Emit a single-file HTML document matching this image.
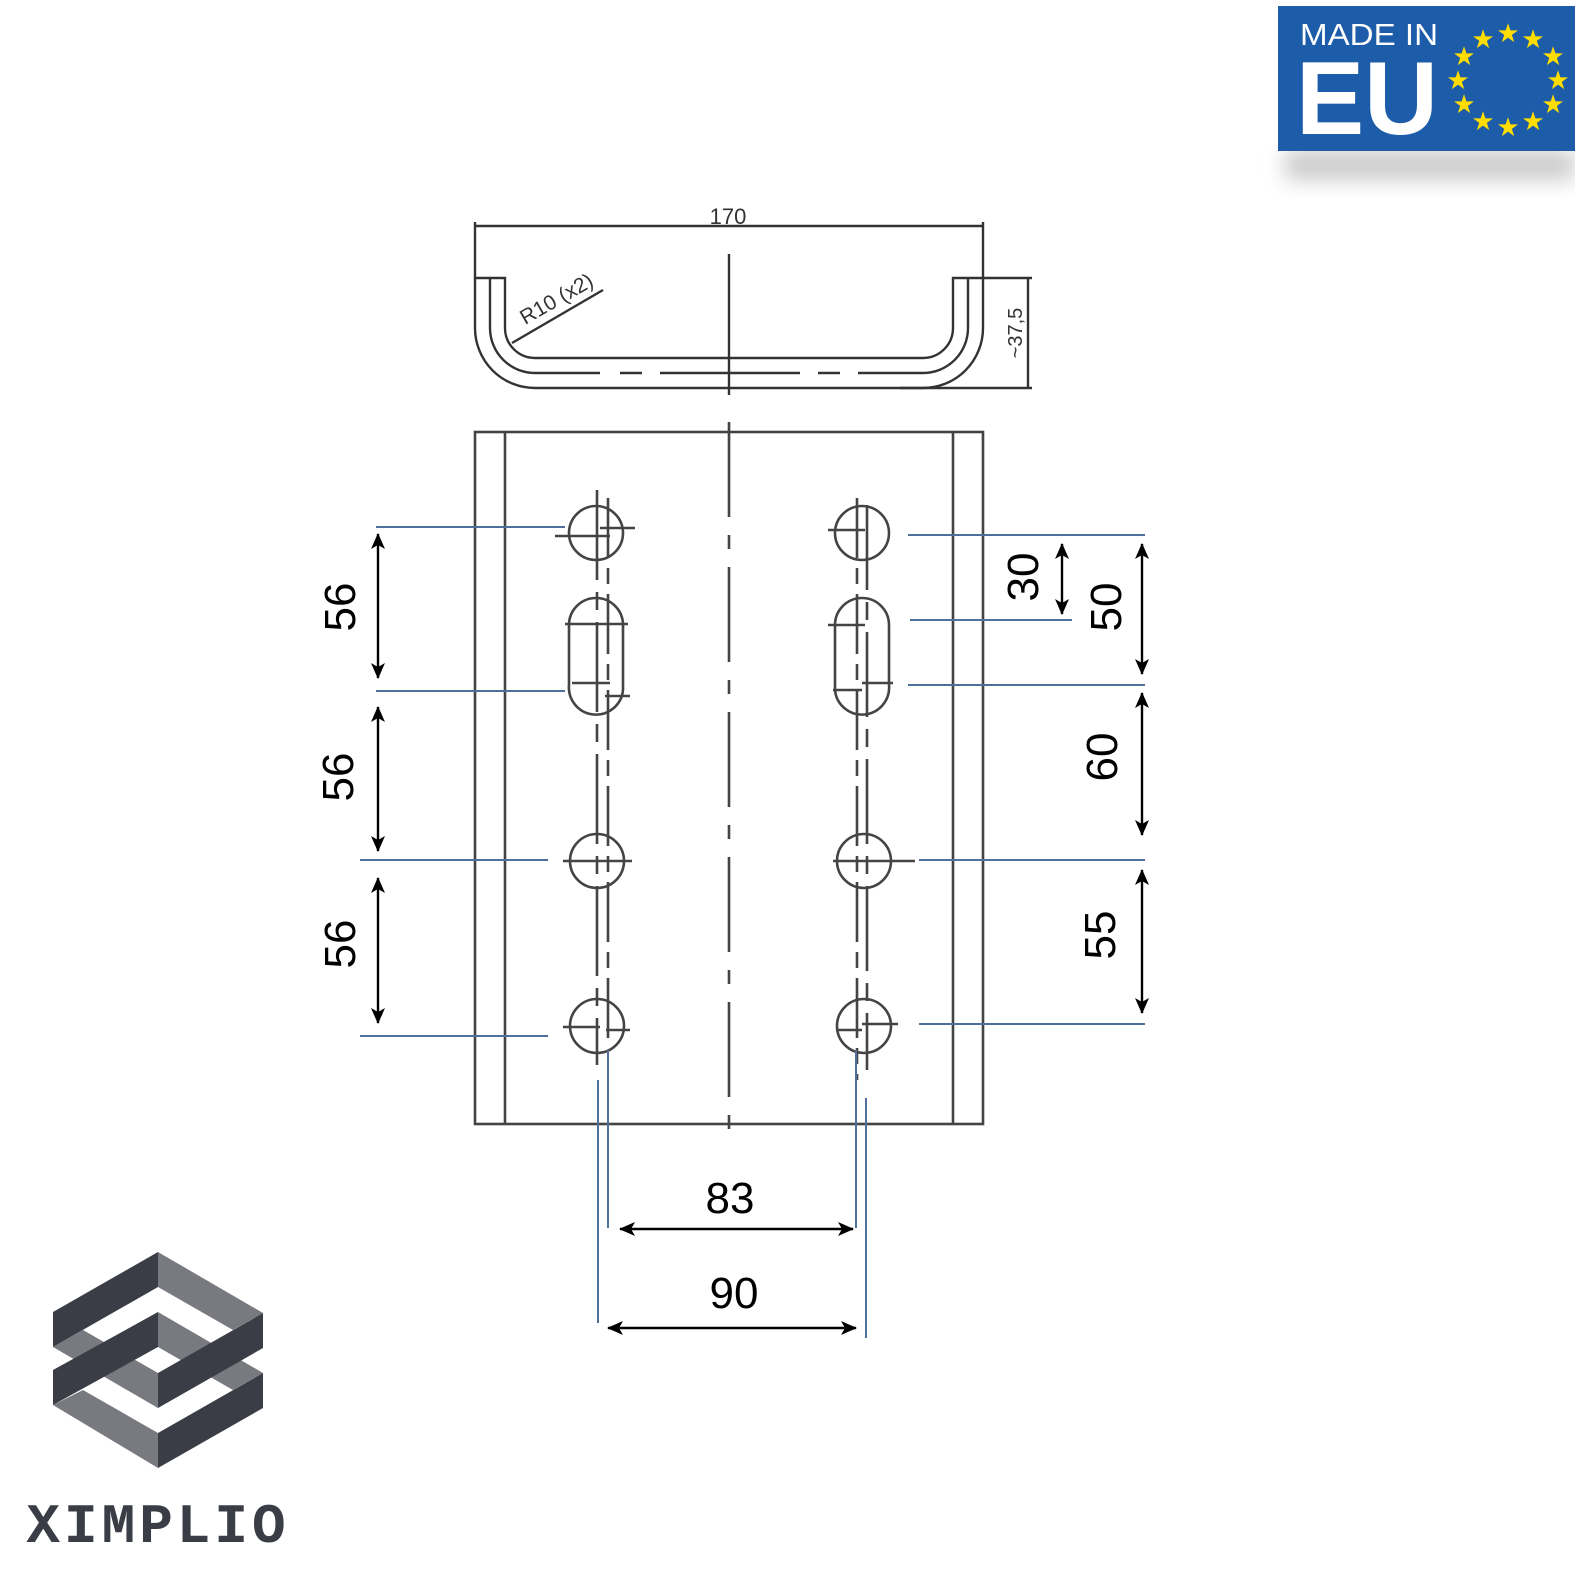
<!DOCTYPE html>
<html><head><meta charset="utf-8"><style>
html,body{margin:0;padding:0;background:#fff;}
svg{display:block;}
</style></head><body>
<svg width="1575" height="1575" viewBox="0 0 1575 1575" xmlns="http://www.w3.org/2000/svg">
<defs>
<marker id="ah" viewBox="0 0 16 14" refX="15" refY="7" markerWidth="16" markerHeight="14" markerUnits="userSpaceOnUse" orient="auto-start-reverse">
<path d="M0,0 L16,7 L0,14 L4,7 z" fill="#000"/>
</marker>
<filter id="sh" x="-20%" y="-20%" width="140%" height="180%"><feGaussianBlur stdDeviation="10"/></filter>
</defs>
<rect width="1575" height="1575" fill="#fff"/>

<!-- EU badge -->
<rect x="1285" y="150" width="290" height="30" fill="#999" opacity="0.5" filter="url(#sh)"/>
<rect x="1278" y="6" width="297" height="145" fill="#1d5ca8"/>
<text x="1300" y="45" font-family="Liberation Sans, sans-serif" font-size="31" fill="#fff" textLength="138" lengthAdjust="spacingAndGlyphs">MADE IN</text>
<text x="1296" y="134" font-family="Liberation Sans, sans-serif" font-weight="bold" font-size="104" fill="#fff" textLength="142" lengthAdjust="spacingAndGlyphs">EU</text>
<g fill="#ffdd00" font-family="DejaVu Sans, sans-serif" font-size="26" text-anchor="middle">
<text x="1508" y="42">★</text><text x="1533" y="48">★</text><text x="1553" y="65">★</text>
<text x="1558" y="89">★</text><text x="1553" y="113">★</text><text x="1533" y="130">★</text>
<text x="1508" y="136">★</text><text x="1483" y="130">★</text><text x="1464" y="113">★</text>
<text x="1458" y="89">★</text><text x="1464" y="65">★</text><text x="1483" y="48">★</text>
</g>

<!-- Top view -->
<g stroke="#333" stroke-width="2.4" fill="none">
<line x1="475" y1="222" x2="475" y2="278"/>
<line x1="983" y1="222" x2="983" y2="278"/>
<line x1="475" y1="226" x2="983" y2="226"/>
<line x1="729" y1="254" x2="729" y2="395"/>
<path d="M475,278 H505 V328 A30,30 0 0 0 535,358 H923 A30,30 0 0 0 953,328 V278 H983 V328 A60,60 0 0 1 923,388 H535 A60,60 0 0 1 475,328 Z"/>
<path d="M490,278 V328 A45,45 0 0 0 535,373 H600 M620,373 H642 M660,373 H800 M818,373 H840 M858,373 H923 A45,45 0 0 0 968,328 V278"/>
<line x1="983" y1="278" x2="1032" y2="278"/>
<line x1="900" y1="388" x2="1032" y2="388"/>
<line x1="1028" y1="278" x2="1028" y2="388"/>
<line x1="512" y1="343" x2="603" y2="290"/>
</g>
<text x="0" y="0" transform="translate(560,305) rotate(-30)" font-family="Liberation Sans, sans-serif" font-size="21" fill="#333" text-anchor="middle">R10 (x2)</text>
<text x="728" y="224" font-family="Liberation Sans, sans-serif" font-size="22" fill="#333" text-anchor="middle">170</text>
<text x="0" y="0" transform="translate(1022,333) rotate(-90)" font-family="Liberation Sans, sans-serif" font-size="20" fill="#333" text-anchor="middle">~37,5</text>

<!-- Front view -->
<g stroke="#444" stroke-width="2.6" fill="none">
<rect x="475" y="432" width="508" height="692"/>
<line x1="505" y1="432" x2="505" y2="1124"/>
<line x1="953" y1="432" x2="953" y2="1124"/>
<line x1="729" y1="422" x2="729" y2="1130" stroke-dasharray="95,18,14,18"/>
<circle cx="596" cy="533" r="27"/>
<path d="M569,625 A27,27 0 0 1 623,625 V690 A27,27 0 0 1 569,685 Z"/>
<circle cx="597" cy="861" r="27"/>
<circle cx="597" cy="1026" r="27"/>
<line x1="597" y1="490" x2="597" y2="1065" stroke-dasharray="90,12,18,12"/>
<line x1="608" y1="498" x2="608" y2="1040" stroke-dasharray="60,10,16,10"/>
<line x1="555" y1="536" x2="610" y2="536"/><line x1="600" y1="528" x2="635" y2="528"/>
<line x1="565" y1="624" x2="628" y2="624"/>
<line x1="572" y1="683" x2="610" y2="683"/><line x1="605" y1="696" x2="630" y2="696"/>
<line x1="563" y1="861" x2="632" y2="861"/>
<line x1="563" y1="1027" x2="600" y2="1027"/><line x1="606" y1="1030" x2="630" y2="1030"/>
<circle cx="862" cy="533" r="27"/>
<path d="M835,625 A27,27 0 0 1 889,625 V685 A27,27 0 0 1 835,690 Z"/>
<circle cx="864" cy="861" r="27"/>
<circle cx="864" cy="1026" r="27"/>
<line x1="857" y1="498" x2="857" y2="1080" stroke-dasharray="60,10,16,10"/>
<line x1="867" y1="505" x2="867" y2="1070" stroke-dasharray="85,12,18,12"/>
<line x1="828" y1="530" x2="865" y2="530"/>
<line x1="828" y1="625" x2="865" y2="625"/>
<line x1="833" y1="690" x2="862" y2="690"/><line x1="862" y1="683" x2="893" y2="683"/>
<line x1="833" y1="861" x2="915" y2="861"/>
<line x1="836" y1="1030" x2="862" y2="1030"/><line x1="862" y1="1024" x2="898" y2="1024"/>
</g>

<g stroke="#4f7199" stroke-width="2">
<line x1="376" y1="527" x2="565" y2="527"/>
<line x1="376" y1="691" x2="565" y2="691"/>
<line x1="360" y1="860" x2="548" y2="860"/>
<line x1="360" y1="1036" x2="548" y2="1036"/>
<line x1="908" y1="535" x2="1145" y2="535"/>
<line x1="910" y1="620" x2="1072" y2="620"/>
<line x1="908" y1="685" x2="1145" y2="685"/>
<line x1="919" y1="860" x2="1145" y2="860"/>
<line x1="919" y1="1024" x2="1145" y2="1024"/>
<line x1="608" y1="1050" x2="608" y2="1228"/>
<line x1="598" y1="1080" x2="598" y2="1323"/>
<line x1="856" y1="1050" x2="856" y2="1228"/>
<line x1="866" y1="1098" x2="866" y2="1338"/>
</g>

<g stroke="#000" stroke-width="2.4" marker-start="url(#ah)" marker-end="url(#ah)">
<line x1="378" y1="534" x2="378" y2="678"/>
<line x1="378" y1="707" x2="378" y2="851"/>
<line x1="378" y1="878" x2="378" y2="1023"/>
<line x1="1062" y1="544" x2="1062" y2="614"/>
<line x1="1142" y1="544" x2="1142" y2="674"/>
<line x1="1142" y1="693" x2="1142" y2="835"/>
<line x1="1142" y1="870" x2="1142" y2="1013"/>
<line x1="620" y1="1229" x2="853" y2="1229"/>
<line x1="608" y1="1328" x2="856" y2="1328"/>
</g>

<g font-family="Liberation Sans, sans-serif" font-size="44" fill="#000" text-anchor="middle">
<text transform="translate(355,607) rotate(-90)">56</text>
<text transform="translate(353,777) rotate(-90)">56</text>
<text transform="translate(355,944) rotate(-90)">56</text>
<text transform="translate(1038,577) rotate(-90)">30</text>
<text transform="translate(1121,607) rotate(-90)">50</text>
<text transform="translate(1117,757) rotate(-90)">60</text>
<text transform="translate(1115,935) rotate(-90)">55</text>
<text x="730" y="1213">83</text>
<text x="734" y="1308">90</text>
</g>

<!-- XIMPLIO logo -->
<g>
<polygon points="158,1252 263,1313 233,1330 158,1287" fill="#787a80"/>
<polygon points="53,1347 83,1330 158,1373 158,1408" fill="#787a80"/>
<polygon points="158,1312 263,1373 233,1390 158,1347" fill="#787a80"/>
<polygon points="53,1405 83,1390 158,1433 158,1468" fill="#787a80"/>
<polygon points="158,1252 158,1287 53,1347 53,1312" fill="#3a3d45"/>
<polygon points="263,1313 263,1348 158,1408 158,1373" fill="#3a3d45"/>
<polygon points="158,1312 158,1347 53,1405 53,1370" fill="#3a3d45"/>
<polygon points="263,1373 263,1408 158,1468 158,1433" fill="#3a3d45"/>
</g>
<text x="158" y="1542" font-family="Liberation Mono, monospace" font-weight="bold" font-size="56" fill="#3a3d45" text-anchor="middle" letter-spacing="4">XIMPLIO</text>
</svg>
</body></html>
